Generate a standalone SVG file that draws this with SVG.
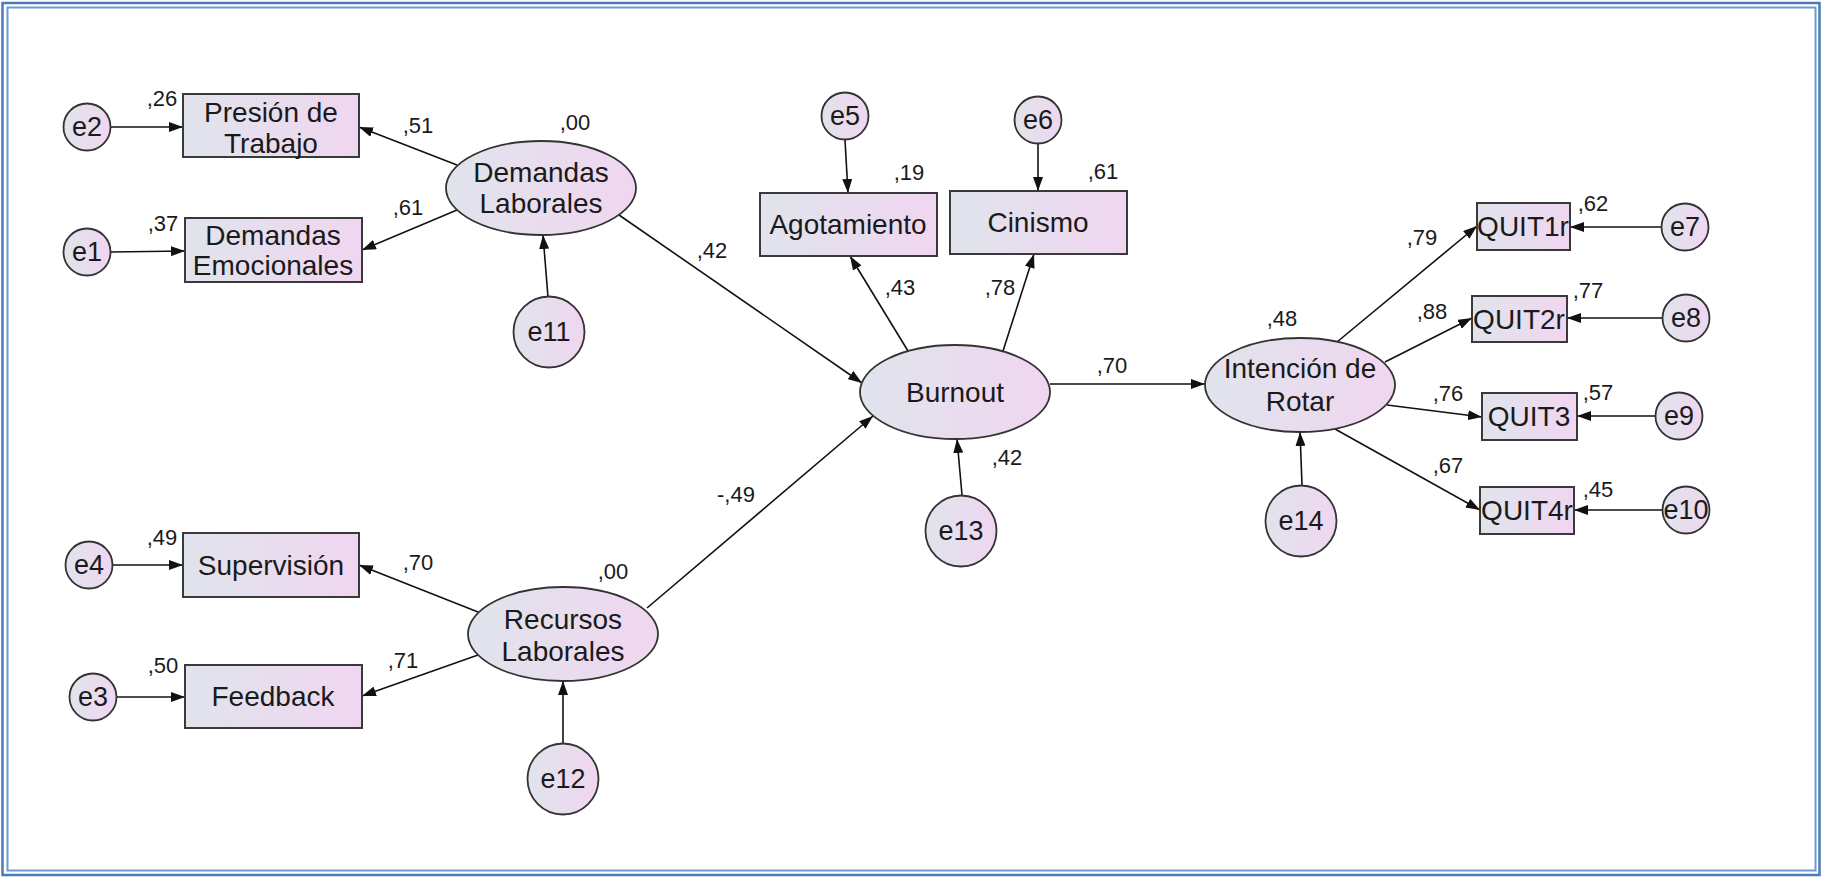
<svg xmlns="http://www.w3.org/2000/svg" width="1827" height="879" viewBox="0 0 1827 879">
<defs>
<linearGradient id="g" x1="0" y1="0" x2="1" y2="0">
<stop offset="0" stop-color="#e0e4ec"/>
<stop offset="1" stop-color="#f0d6f0"/>
</linearGradient>
<marker id="a" viewBox="0 0 14 10" refX="14" refY="5" markerWidth="14" markerHeight="10" markerUnits="userSpaceOnUse" orient="auto">
<path d="M0,0 L14,5 L0,10 z" fill="#111"/>
</marker>
<style>
.box{fill:url(#g);stroke:#3a3a3a;stroke-width:2}
.lat{fill:url(#g);stroke:#333;stroke-width:1.8}
.err{fill:url(#g);stroke:#333;stroke-width:1.8}
.t{font-family:"Liberation Sans",Arial,sans-serif;font-size:28px;fill:#1a1a1a;text-anchor:middle}
.e{font-family:"Liberation Sans",Arial,sans-serif;font-size:27px;fill:#1a1a1a;text-anchor:middle}
.n{font-family:"Liberation Sans",Arial,sans-serif;font-size:22px;fill:#1a1a1a;text-anchor:middle}
.c line{stroke:#111;stroke-width:1.6;marker-end:url(#a)}
</style>
</defs>
<rect width="1827" height="879" fill="#ffffff"/>
<rect x="2.5" y="3" width="1817" height="872" fill="none" stroke="#4a7cb9" stroke-width="2.5"/>
<rect x="7.5" y="7.5" width="1808" height="863" fill="none" stroke="#6b9ad2" stroke-width="2"/>

<g id="connectors" class="c">
<line x1="111" y1="127" x2="183" y2="127"/>
<line x1="111" y1="252" x2="185" y2="251"/>
<line x1="112" y1="565" x2="183" y2="565"/>
<line x1="116" y1="697" x2="185" y2="697"/>
<line x1="457" y1="165" x2="359" y2="127"/>
<line x1="457" y1="210" x2="362" y2="250"/>
<line x1="548" y1="297" x2="543" y2="235"/>
<line x1="619" y1="215" x2="862" y2="383"/>
<line x1="478" y1="612" x2="359" y2="565"/>
<line x1="478" y1="655" x2="362" y2="696"/>
<line x1="563" y1="744" x2="563" y2="681"/>
<line x1="647" y1="608" x2="873" y2="416"/>
<line x1="845" y1="140" x2="848" y2="193"/>
<line x1="1038" y1="144" x2="1038" y2="191"/>
<line x1="908" y1="351" x2="850" y2="256"/>
<line x1="1003" y1="351" x2="1034" y2="254"/>
<line x1="962" y1="495" x2="957" y2="439"/>
<line x1="1050" y1="384" x2="1205" y2="384"/>
<line x1="1302" y1="485" x2="1300" y2="432"/>
<line x1="1337" y1="342" x2="1477" y2="226"/>
<line x1="1385" y1="362" x2="1472" y2="318"/>
<line x1="1387" y1="405" x2="1482" y2="417"/>
<line x1="1335" y1="429" x2="1480" y2="510"/>
<line x1="1662" y1="227" x2="1570" y2="227"/>
<line x1="1663" y1="318" x2="1567" y2="318"/>
<line x1="1656" y1="416" x2="1577" y2="416"/>
<line x1="1662" y1="510" x2="1574" y2="510"/>
</g>

<g id="presion"><rect class="box" x="183" y="94" width="176" height="63"/><text class="t" x="271" y="122">Presión de</text><text class="t" x="271" y="153">Trabajo</text></g>
<g id="demandas-emocionales"><rect class="box" x="185" y="218" width="177" height="64"/><text class="t" x="273" y="245">Demandas</text><text class="t" x="273" y="275">Emocionales</text></g>
<g id="supervision"><rect class="box" x="183" y="533" width="176" height="64"/><text class="t" x="271" y="575">Supervisión</text></g>
<g id="feedback"><rect class="box" x="185" y="665" width="177" height="63"/><text class="t" x="273" y="706">Feedback</text></g>
<g id="agotamiento"><rect class="box" x="760" y="193" width="177" height="63"/><text class="t" x="848" y="234">Agotamiento</text></g>
<g id="cinismo"><rect class="box" x="950" y="191" width="177" height="63"/><text class="t" x="1038" y="232">Cinismo</text></g>
<g id="quit1r"><rect class="box" x="1477" y="203" width="93" height="47"/><text class="t" x="1523" y="236">QUIT1r</text></g>
<g id="quit2r"><rect class="box" x="1472" y="296" width="95" height="46"/><text class="t" x="1519" y="329">QUIT2r</text></g>
<g id="quit3"><rect class="box" x="1482" y="393" width="95" height="47"/><text class="t" x="1529" y="426">QUIT3</text></g>
<g id="quit4r"><rect class="box" x="1480" y="487" width="94" height="47"/><text class="t" x="1527" y="520">QUIT4r</text></g>

<g id="demandas-laborales"><ellipse class="lat" cx="541" cy="188" rx="95" ry="47"/><text class="t" x="541" y="182">Demandas</text><text class="t" x="541" y="213">Laborales</text></g>
<g id="recursos-laborales"><ellipse class="lat" cx="563" cy="634" rx="95" ry="47"/><text class="t" x="563" y="629">Recursos</text><text class="t" x="563" y="661">Laborales</text></g>
<g id="burnout"><ellipse class="lat" cx="955" cy="392" rx="95" ry="47"/><text class="t" x="955" y="402">Burnout</text></g>
<g id="intencion"><ellipse class="lat" cx="1300" cy="385" rx="95" ry="47"/><text class="t" x="1300" y="378">Intención de</text><text class="t" x="1300" y="411">Rotar</text></g>

<g id="e1"><circle class="err" cx="87" cy="252" r="23.5"/><text class="e" x="87" y="261">e1</text></g>
<g id="e2"><circle class="err" cx="87" cy="127" r="23.5"/><text class="e" x="87" y="136">e2</text></g>
<g id="e3"><circle class="err" cx="93" cy="697" r="23.5"/><text class="e" x="93" y="706">e3</text></g>
<g id="e4"><circle class="err" cx="89" cy="565" r="23.5"/><text class="e" x="89" y="574">e4</text></g>
<g id="e5"><circle class="err" cx="845" cy="116" r="23.5"/><text class="e" x="845" y="125">e5</text></g>
<g id="e6"><circle class="err" cx="1038" cy="120" r="23.5"/><text class="e" x="1038" y="129">e6</text></g>
<g id="e7"><circle class="err" cx="1685" cy="227" r="23.5"/><text class="e" x="1685" y="236">e7</text></g>
<g id="e8"><circle class="err" cx="1686" cy="318" r="23.5"/><text class="e" x="1686" y="327">e8</text></g>
<g id="e9"><circle class="err" cx="1679" cy="416" r="23.5"/><text class="e" x="1679" y="425">e9</text></g>
<g id="e10"><circle class="err" cx="1686" cy="510" r="23.5"/><text class="e" x="1686" y="519">e10</text></g>
<g id="e11"><circle class="err" cx="549" cy="332" r="35.5"/><text class="e" x="549" y="341">e11</text></g>
<g id="e12"><circle class="err" cx="563" cy="779" r="35.5"/><text class="e" x="563" y="788">e12</text></g>
<g id="e13"><circle class="err" cx="961" cy="531" r="35.5"/><text class="e" x="961" y="540">e13</text></g>
<g id="e14"><circle class="err" cx="1301" cy="521" r="35.5"/><text class="e" x="1301" y="530">e14</text></g>

<g id="labels">
<text class="n" x="162" y="106">,26</text>
<text class="n" x="163" y="231">,37</text>
<text class="n" x="418" y="133">,51</text>
<text class="n" x="408" y="215">,61</text>
<text class="n" x="575" y="130">,00</text>
<text class="n" x="712" y="258">,42</text>
<text class="n" x="909" y="180">,19</text>
<text class="n" x="1103" y="179">,61</text>
<text class="n" x="900" y="295">,43</text>
<text class="n" x="1000" y="295">,78</text>
<text class="n" x="1112" y="373">,70</text>
<text class="n" x="1007" y="465">,42</text>
<text class="n" x="736" y="502">-,49</text>
<text class="n" x="613" y="579">,00</text>
<text class="n" x="162" y="545">,49</text>
<text class="n" x="418" y="570">,70</text>
<text class="n" x="163" y="673">,50</text>
<text class="n" x="403" y="668">,71</text>
<text class="n" x="1282" y="326">,48</text>
<text class="n" x="1422" y="245">,79</text>
<text class="n" x="1432" y="319">,88</text>
<text class="n" x="1448" y="401">,76</text>
<text class="n" x="1448" y="473">,67</text>
<text class="n" x="1593" y="211">,62</text>
<text class="n" x="1588" y="298">,77</text>
<text class="n" x="1598" y="400">,57</text>
<text class="n" x="1598" y="497">,45</text>
</g>
</svg>
